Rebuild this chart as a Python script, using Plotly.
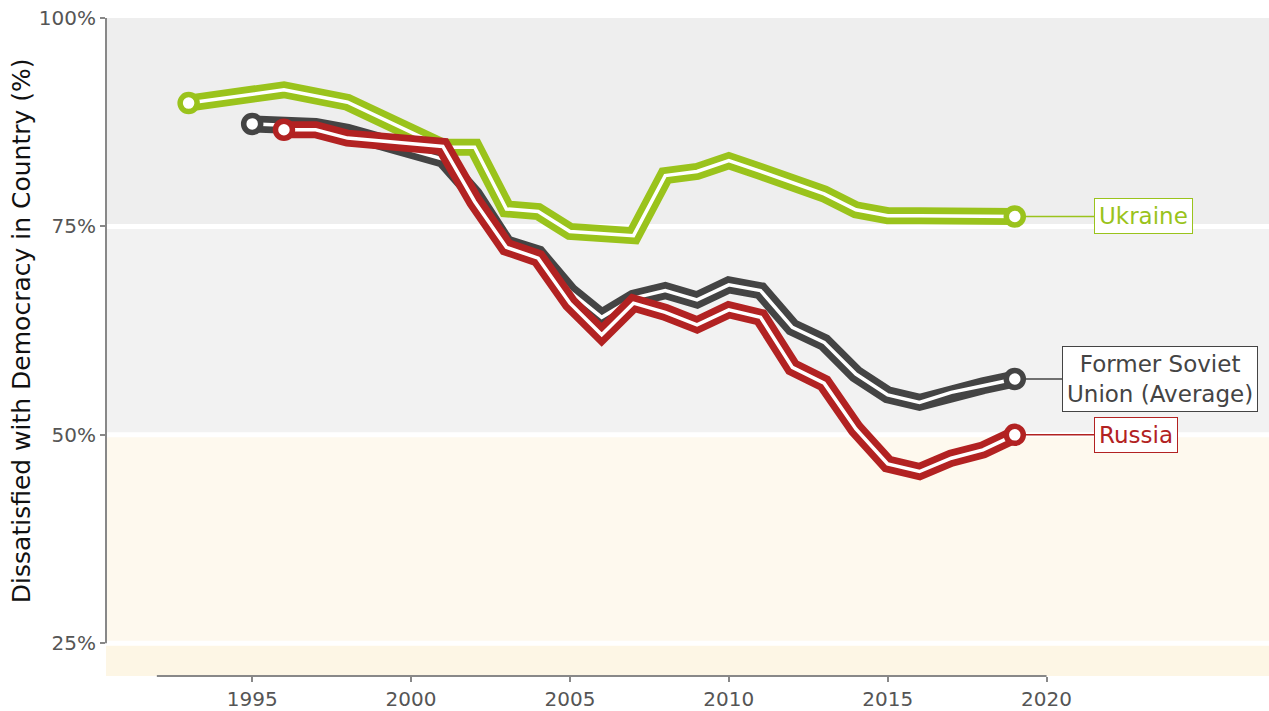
import plotly.graph_objects as go

# data (share dissatisfied with democracy, %)
ukr_years = [1993, 1996, 1998, 2001, 2002, 2003, 2004, 2005, 2007, 2008, 2009, 2010, 2011, 2012, 2013, 2014, 2015, 2016, 2017, 2018, 2019]
ukr_vals = [89.8, 91.4, 89.9, 84.5, 84.5, 77.1, 76.8, 74.4, 73.9, 81.1, 81.6, 82.9, 81.6, 80.3, 78.9, 77.0, 76.3, 76.3, 76.3, 76.2, 76.2]

fsu_years = list(range(1995, 2020))
fsu_vals = [87.3, 87.2, 87.0, 86.3, 85.2, 84.1, 83.1, 78.8, 72.9, 71.7, 67.2, 64.1, 66.4, 67.3, 66.2, 68.0, 67.3, 62.9, 61.1, 57.3, 54.8, 53.9, 55.1, 55.9, 56.7]

rus_years = list(range(1996, 2020))
rus_vals = [86.6, 86.6, 85.6, 85.3, 85.0, 84.6, 78.0, 72.5, 71.2, 65.8, 62.0, 65.8, 64.7, 63.2, 65.0, 64.1, 58.1, 56.2, 50.7, 46.5, 45.6, 47.2, 48.2, 50.0]

series = [
    ("Former Soviet<br>Union (Average)", fsu_years, fsu_vals, "#444444", 2020.5),
    ("Ukraine", ukr_years, ukr_vals, "#9ac31c", 2021.5),
    ("Russia", rus_years, rus_vals, "#b22222", 2021.5),
]

x_ticks = [1995, 2000, 2005, 2010, 2015, 2020]
y_ticks = [25, 50, 75, 100]
y_labels = ["25%", "50%", "75%", "100%"]

fig = go.Figure()

for name, xs, ys, col, lab_x in series:
    fig.add_trace(go.Scatter(x=xs, y=ys, mode="lines", line=dict(color=col, width=17),
                             hoverinfo="skip", showlegend=False))
    fig.add_trace(go.Scatter(x=xs, y=ys, mode="lines", line=dict(color="white", width=3.5),
                             showlegend=False, name=name.replace("<br>", " ")))
    fig.add_trace(go.Scatter(x=[xs[0], xs[-1]], y=[ys[0], ys[-1]], mode="markers",
                             marker=dict(size=17, color="white", line=dict(color=col, width=5.5)),
                             hoverinfo="skip", showlegend=False))
    # connector + label
    fig.add_shape(type="line", x0=xs[-1], x1=lab_x, y0=ys[-1], y1=ys[-1],
                  line=dict(color=col, width=1.5), layer="below")
    fig.add_annotation(x=lab_x, y=ys[-1], text=name, showarrow=False, xanchor="left",
                       font=dict(size=23, color=col, family="DejaVu Sans"),
                       bgcolor="white", bordercolor=col, borderwidth=1, borderpad=4)

# background bands
bands = [(75, 100, "#eeeeee"), (50, 75, "#f2f2f2"), (25, 50, "#fef9ee"), (0, 25, "#fdf6e5")]
for y0, y1, c in bands:
    fig.add_shape(type="rect", xref="paper", x0=0, x1=1, y0=y0, y1=y1,
                  fillcolor=c, line_width=0, layer="below")
for g in [25, 50, 75]:
    fig.add_shape(type="line", xref="paper", x0=0, x1=1, y0=g, y1=g,
                  line=dict(color="white", width=5), layer="below")

# range-frame axis lines
fig.add_shape(type="line", xref="paper", x0=0, x1=0, y0=25, y1=100,
              line=dict(color="#888888", width=2))
fig.add_shape(type="line", yref="paper", x0=1992, x1=2020, y0=0, y1=0,
              line=dict(color="#888888", width=2))

fig.add_annotation(xref="paper", x=0, xshift=-101, y=62.5, text="Dissatisfied with Democracy in Country (%)",
                   textangle=-90, showarrow=False, font=dict(size=25, color="#111111"))

fig.update_xaxes(range=[1990.4, 2027.0], tickvals=x_ticks, ticks="outside", ticklen=5,
                 tickcolor="#888888", tickwidth=1.5, showgrid=False, zeroline=False, showline=False,
                 tickfont=dict(size=20, color="#555555"))
fig.update_yaxes(range=[21.07, 100.01], tickvals=y_ticks, ticktext=y_labels, ticks="outside", ticklen=5,
                 tickcolor="#888888", tickwidth=1.5, showgrid=False, zeroline=False, showline=False,
                 tickfont=dict(size=20, color="#555555"), ticklabeloverflow="allow")

fig.update_layout(width=1269, height=711, margin=dict(l=106, r=0, t=18, b=30),
                  plot_bgcolor="white", paper_bgcolor="white",
                  font=dict(family="DejaVu Sans"))

# drop the default 8px body margin so the figure fills the window
fig.write_html("out.html", config={"displayModeBar": False},
               post_script="document.body.style.margin='0';")
